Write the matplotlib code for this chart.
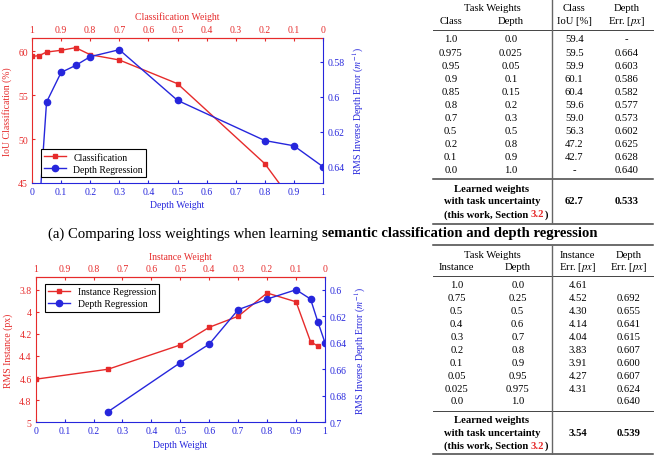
import numpy as np
import matplotlib
matplotlib.use("Agg")
import matplotlib.pyplot as plt
from matplotlib.ticker import FuncFormatter

plt.rcParams['font.family'] = ['Liberation Serif', 'DejaVu Serif']
plt.rcParams['mathtext.fontset'] = 'stix'

RED = '#e62b2b'
BLUE = '#2626dc'

# --- top chart: classification vs depth ---
cls_x = [0, 0.025, 0.05, 0.1, 0.15, 0.2, 0.3, 0.5, 0.8, 0.9]
cls_iou = [59.4, 59.5, 59.9, 60.1, 60.4, 59.6, 59.0, 56.3, 47.2, 42.7]
dep1_x = [0.025, 0.05, 0.1, 0.15, 0.2, 0.3, 0.5, 0.8, 0.9, 1.0]
dep1_err = [0.664, 0.603, 0.586, 0.582, 0.577, 0.573, 0.602, 0.625, 0.628, 0.640]

# --- bottom chart: instance vs depth ---
inst_x = [0, 0.25, 0.5, 0.6, 0.7, 0.8, 0.9, 0.95, 0.975]
inst_err = [4.61, 4.52, 4.30, 4.14, 4.04, 3.83, 3.91, 4.27, 4.31]
dep2_x = [0.25, 0.5, 0.6, 0.7, 0.8, 0.9, 0.95, 0.975, 1.0]
dep2_err = [0.692, 0.655, 0.641, 0.615, 0.607, 0.600, 0.607, 0.624, 0.640]

weight_ticks = [0, 0.1, 0.2, 0.3, 0.4, 0.5, 0.6, 0.7, 0.8, 0.9, 1]

# --- tables ---
t1_class = ["1.0", "0.975", "0.95", "0.9", "0.85", "0.8", "0.7", "0.5", "0.2", "0.1", "0.0"]
t1_depth = ["0.0", "0.025", "0.05", "0.1", "0.15", "0.2", "0.3", "0.5", "0.8", "0.9", "1.0"]
t1_iou = ["59.4", "59.5", "59.9", "60.1", "60.4", "59.6", "59.0", "56.3", "47.2", "42.7", "-"]
t1_err = ["-", "0.664", "0.603", "0.586", "0.582", "0.577", "0.573", "0.602", "0.625", "0.628", "0.640"]
t1_learned = ["62.7", "0.533"]

t2_inst = ["1.0", "0.75", "0.5", "0.4", "0.3", "0.2", "0.1", "0.05", "0.025", "0.0"]
t2_depth = ["0.0", "0.25", "0.5", "0.6", "0.7", "0.8", "0.9", "0.95", "0.975", "1.0"]
t2_ierr = ["4.61", "4.52", "4.30", "4.14", "4.04", "3.83", "3.91", "4.27", "4.31", ""]
t2_derr = ["", "0.692", "0.655", "0.641", "0.615", "0.607", "0.600", "0.607", "0.624", "0.640"]
t2_learned = ["3.54", "0.539"]

W, H = 662, 456
fig = plt.figure(figsize=(W / 100, H / 100), dpi=100)


def rect(x0, y0, x1, y1):
    return [x0 / W, 1 - y1 / H, (x1 - x0) / W, (y1 - y0) / H]


def fmt(v, p):
    return f"{round(v, 3):g}"


def make_chart(r, top_label, left_label, red_x, red_y, red_name, blue_x, blue_y,
               ylim_l, yticks_l, ylim_r, yticks_r, leg_loc, leg_anchor):
    ax = fig.add_axes(r)
    ax2 = ax.twinx()
    l1, = ax.plot(red_x, red_y, color=RED, lw=1.0, marker='s', ms=2.5, label=red_name)
    l2, = ax2.plot(blue_x, blue_y, color=BLUE, lw=1.0, marker='o', ms=4.5, label='Depth Regression')
    ax.set_xlim(0, 1)
    ax.set_ylim(*ylim_l)
    ax.set_yticks(yticks_l)
    ax2.set_ylim(*ylim_r)
    ax2.set_yticks(yticks_r)
    ax.set_xticks(weight_ticks)
    for a in (ax, ax2):
        a.xaxis.set_major_formatter(FuncFormatter(fmt))
        a.yaxis.set_major_formatter(FuncFormatter(fmt))
    ax.tick_params(axis='x', colors=BLUE, labelsize=7, direction='in', length=2.5, pad=3)
    ax.tick_params(axis='y', colors=RED, labelsize=7, direction='in', length=2.5, pad=3)
    ax2.tick_params(axis='y', colors=BLUE, labelsize=7, direction='in', length=2.5, pad=3)
    ax.spines['left'].set_color(RED)
    ax.spines['top'].set_color(RED)
    ax.spines['bottom'].set_color(BLUE)
    ax.spines['right'].set_visible(False)
    for s in ('left', 'top', 'bottom'):
        ax2.spines[s].set_visible(False)
    ax2.spines['right'].set_color(BLUE)
    sec = ax.secondary_xaxis('top', functions=(lambda x: 1 - x, lambda x: 1 - x))
    sec.set_xticks(weight_ticks)
    sec.xaxis.set_major_formatter(FuncFormatter(fmt))
    sec.tick_params(colors=RED, labelsize=7, direction='in', length=2.5, pad=3)
    sec.spines['top'].set_color(RED)
    sec.set_xlabel(top_label, color=RED, fontsize=7, labelpad=4)
    ax.set_xlabel('Depth Weight', color=BLUE, fontsize=7, labelpad=3)
    ax.set_ylabel(left_label, color=RED, fontsize=7, labelpad=4)
    ax2.set_ylabel('RMS Inverse Depth Error ($m^{-1}$)', color=BLUE, fontsize=7, labelpad=5)
    leg = ax2.legend(handles=[l1, l2], loc=leg_loc, bbox_to_anchor=leg_anchor, borderaxespad=0,
                     fontsize=7, fancybox=False, framealpha=1, edgecolor='black',
                     handlelength=2.2, borderpad=0.35, labelspacing=0.3)
    leg.get_frame().set_linewidth(0.8)


make_chart(rect(32, 39, 323, 184), 'Classification Weight', 'IoU Classification (%)',
           cls_x, cls_iou, 'Classification', dep1_x, dep1_err,
           (45, 61.5), [45, 50, 55, 60], (0.6493, 0.5663), [0.58, 0.60, 0.62, 0.64],
           'lower left', (0.03, 0.041))

make_chart(rect(35.7, 278.3, 325, 423.3), 'Instance Weight', 'RMS Instance (px)',
           inst_x, inst_err, 'Instance Regression', dep2_x, dep2_err,
           (5, 3.688), [3.8, 4, 4.2, 4.4, 4.6, 4.8, 5], (0.7, 0.5906),
           [0.6, 0.62, 0.64, 0.66, 0.68, 0.7], 'upper left', (0.032, 0.954))

renderer = fig.canvas.get_renderer()


def txt(x, y, s, **kw):
    kw.setdefault('fontsize', 7.7)
    kw.setdefault('ha', 'center')
    kw.setdefault('va', 'center')
    return fig.text(x / W, 1 - y / H, s, **kw)


def pieces(x, y, parts, **kw):
    # draw consecutive text pieces starting at pixel x
    for s, extra in parts:
        opts = dict(kw)
        opts.update(extra)
        t = txt(x, y, s, ha='left', **opts)
        x = t.get_window_extent(renderer).x1


def hline(y, x0, x1, lw):
    fig.add_artist(plt.Line2D([x0 / W, x1 / W], [1 - y / H, 1 - y / H], color='#444444', lw=lw))


def vline(x, y0, y1):
    fig.add_artist(plt.Line2D([x / W, x / W], [1 - y0 / H, 1 - y1 / H], color='#666666', lw=1.0))


def learned_block(y0, vals, cols, section_x):
    txt(492, y0, 'Learned weights', fontweight='bold')
    txt(492, y0 + 12.7, 'with task uncertainty', fontweight='bold')
    pieces(section_x, y0 + 25.4, [('(this work, Section ', {}), ('3.2', {'color': RED}), (')', {})],
           fontweight='bold', fontsize=7.7)
    txt(cols[2], y0 + 12.7, vals[0], fontweight='bold')
    txt(cols[3], y0 + 12.7, vals[1], fontweight='bold')


# top table
cols1 = [450.7, 511, 574.3, 626.7]
txt(492, 8.3, 'Task Weights')
txt(cols1[0], 21.7, 'Class')
txt(cols1[1], 21.7, 'Depth')
txt(cols1[2], 8.3, 'Class')
txt(cols1[2], 21.7, 'IoU [%]')
txt(cols1[3], 8.3, 'Depth')
txt(cols1[3], 21.7, 'Err. [$px$]')
hline(30.7, 432.7, 652.7, 0.7)
for i in range(len(t1_class)):
    y = 40 + i * 13.07
    for c, col in zip(cols1, [t1_class, t1_depth, t1_iou, t1_err]):
        txt(c, y, col[i])
hline(180.3, 432.7, 652.7, 1.1)
learned_block(189.3, t1_learned, cols1, 444)
hline(225, 432.7, 652.7, 1.1)
vline(552.3, 0, 224)

# caption
pieces(48, 234, [('(a) Comparing loss weightings when learning ', {}),
                 ('semantic classification and depth regression', {'fontweight': 'bold'})],
       fontsize=10.65)

# bottom table
cols2 = [456.7, 517.7, 577.7, 628.3]
hline(245.7, 433.3, 653.3, 1.1)
txt(492, 255, 'Task Weights')
txt(cols2[0], 267.7, 'Instance')
txt(cols2[1], 267.7, 'Depth')
txt(cols2[2], 255, 'Instance')
txt(cols2[2], 267.7, 'Err. [$px$]')
txt(cols2[3], 255, 'Depth')
txt(cols2[3], 267.7, 'Err. [$px$]')
hline(276.7, 433.3, 653.3, 0.7)
for i in range(len(t2_inst)):
    y = 285.7 + i * 12.92
    for c, col in zip(cols2, [t2_inst, t2_depth, t2_ierr, t2_derr]):
        txt(c, y, col[i])
hline(411.7, 433.3, 653.3, 0.7)
learned_block(421, t2_learned, cols2, 444)
hline(455, 433.3, 653.3, 1.1)
vline(552.3, 247, 455)

fig.savefig('out.png', dpi=100)
